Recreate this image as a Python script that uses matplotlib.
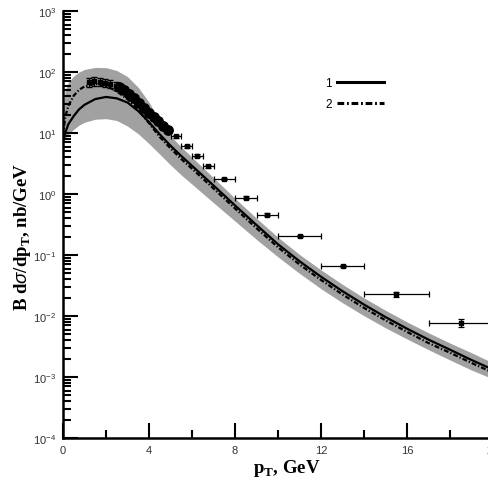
import numpy as np
import matplotlib
matplotlib.use("Agg")
import matplotlib.pyplot as plt
from matplotlib.ticker import LogLocator, MultipleLocator, NullFormatter

plt.rcParams['font.family'] = 'Liberation Sans'
plt.rcParams['mathtext.fontset'] = 'custom'
plt.rcParams['mathtext.rm'] = 'Liberation Sans'
plt.rcParams['mathtext.it'] = 'Liberation Sans:italic'
plt.rcParams['mathtext.bf'] = 'Liberation Sans:bold'

# theory curves
pt = [0.0, 0.1, 0.25, 0.5, 0.75, 1.0, 1.5, 2.0, 2.5, 3.0, 3.5, 4.0, 4.5, 5.0, 5.5, 6.0,
      7.0, 8.0, 9.0, 10.0, 11.0, 12.0, 13.0, 14.0, 15.0, 16.0, 17.0, 18.0, 19.0, 20.0]
curve1 = [7, 10, 14, 19, 24.5, 29, 36, 39, 37, 31.6, 22.9, 15.1, 9.5, 6.2, 4.2, 2.9,
          1.38, 0.65, 0.31, 0.15, 0.079, 0.044, 0.0255, 0.0154, 0.0096, 0.0062, 0.0041, 0.0028, 0.0019, 0.00132]
curve2 = [9, 18, 28, 41, 51, 58, 64, 60, 48, 36, 24, 14.5, 8.6, 5.6, 3.75, 2.6,
          1.23, 0.58, 0.275, 0.134, 0.07, 0.039, 0.0225, 0.0136, 0.0085, 0.0055, 0.0036, 0.0025, 0.0017, 0.00118]
band_hi = [20, 50, 68, 86, 100, 110, 119, 118, 106, 84, 56, 32, 15.5, 9.0, 5.9, 4.0,
           1.85, 0.85, 0.40, 0.195, 0.102, 0.057, 0.033, 0.0198, 0.0124, 0.008, 0.0053, 0.0036, 0.0025, 0.0017]
band_lo = [7, 8, 9.5, 11.5, 13.5, 15, 16.8, 17.2, 16, 13, 9.7, 6.7, 4.5, 3.0, 2.05, 1.45,
           0.72, 0.36, 0.18, 0.093, 0.05, 0.028, 0.0165, 0.0101, 0.0064, 0.0042, 0.0028, 0.0019, 0.0013, 0.00093]

# data: low-pT squares
sq_x = [1.2, 1.45, 1.7, 1.95, 2.2, 2.45, 2.7]
sq_y = [68, 70, 69, 67, 64, 60, 56]
sq_err = [12, 12, 11, 11, 10, 9, 8]

# data: circles
circ_x = [2.6, 2.83, 3.06, 3.29, 3.52, 3.75, 3.98, 4.21, 4.44, 4.67, 4.9]
circ_y = [56, 50, 43, 37, 31, 26, 21.5, 18, 15.5, 13, 11.2]

# data: binned points with horizontal error bars
bin_x = [5.25, 5.75, 6.25, 6.75, 7.5, 8.5, 9.5, 11.0, 13.0, 15.5, 18.5]
bin_w = [0.25, 0.25, 0.25, 0.25, 0.5, 0.5, 0.5, 1.0, 1.0, 1.5, 1.5]
bin_y = [8.8, 6.05, 4.25, 2.85, 1.76, 0.87, 0.46, 0.207, 0.0667, 0.0227, 0.00767]
bin_err = [0.4, 0.3, 0.2, 0.15, 0.08, 0.04, 0.02, 0.009, 0.003, 0.0022, 0.0011]

fig = plt.figure(figsize=(4.88, 4.85), dpi=100)
ax = fig.add_axes([63 / 488, 46 / 485, 430 / 488, 427 / 485])

dashdot = (0, (2.2, 0.9, 0.6, 0.9))
ax.fill_between(pt, band_lo, band_hi, color='0.63', lw=0, zorder=1)
l1, = ax.plot(pt, curve1, color='black', lw=1.6, zorder=3)
l2, = ax.plot(pt, curve2, color='black', lw=1.6, ls=dashdot, zorder=3)

ax.errorbar(sq_x, sq_y, yerr=sq_err, fmt='s', color='black', ms=3, lw=0.8,
            capsize=2, zorder=4)
ax.plot(circ_x, circ_y, 'o', color='black', ms=6.8, zorder=4)
ax.errorbar(bin_x, bin_y, xerr=bin_w, yerr=bin_err, fmt='s', color='black', ms=3.5,
            lw=0.9, capsize=2, capthick=0.9, zorder=4)

ax.set_yscale('log')
ax.set_xlim(0, 20)
ax.set_ylim(1e-4, 1e3)

for s in ['top', 'right']:
    ax.spines[s].set_visible(False)
for s in ['left', 'bottom']:
    ax.spines[s].set_linewidth(1.8)

ax.xaxis.set_major_locator(MultipleLocator(4))
ax.xaxis.set_minor_locator(MultipleLocator(2))
ax.yaxis.set_major_locator(LogLocator(base=10, numticks=20))
ax.yaxis.set_minor_locator(LogLocator(base=10, subs=np.arange(2, 10), numticks=20))
ax.yaxis.set_minor_formatter(NullFormatter())
ax.tick_params(which='major', direction='in', length=11, width=1.5, labelsize=8,
               labelcolor='#333333', pad=5)
ax.tick_params(which='minor', direction='in', length=6, width=1.5)
ax.tick_params(top=False, right=False, which='both')

ax.set_xlabel(r'p$_\mathregular{T}$, GeV', family='Liberation Serif', fontweight='bold',
              fontsize=13.5)
ax.set_ylabel(r'B d$\sigma$/dp$_\mathregular{T}$, nb/GeV', family='Liberation Serif',
              fontweight='bold', fontsize=13.5)
ax.xaxis.set_label_coords(0.52, -0.045)
ax.yaxis.set_label_coords(-0.07, 0.473)

leg = ax.legend([l1, l2], ['1', '2'], loc='upper left', bbox_to_anchor=(0.585, 0.87),
                frameon=False, markerfirst=False, handlelength=4.0, handletextpad=0.4,
                fontsize=8.5, labelspacing=0.75)
for h in leg.get_lines():
    h.set_linewidth(2.2)

fig.savefig('out.png', dpi=100)
